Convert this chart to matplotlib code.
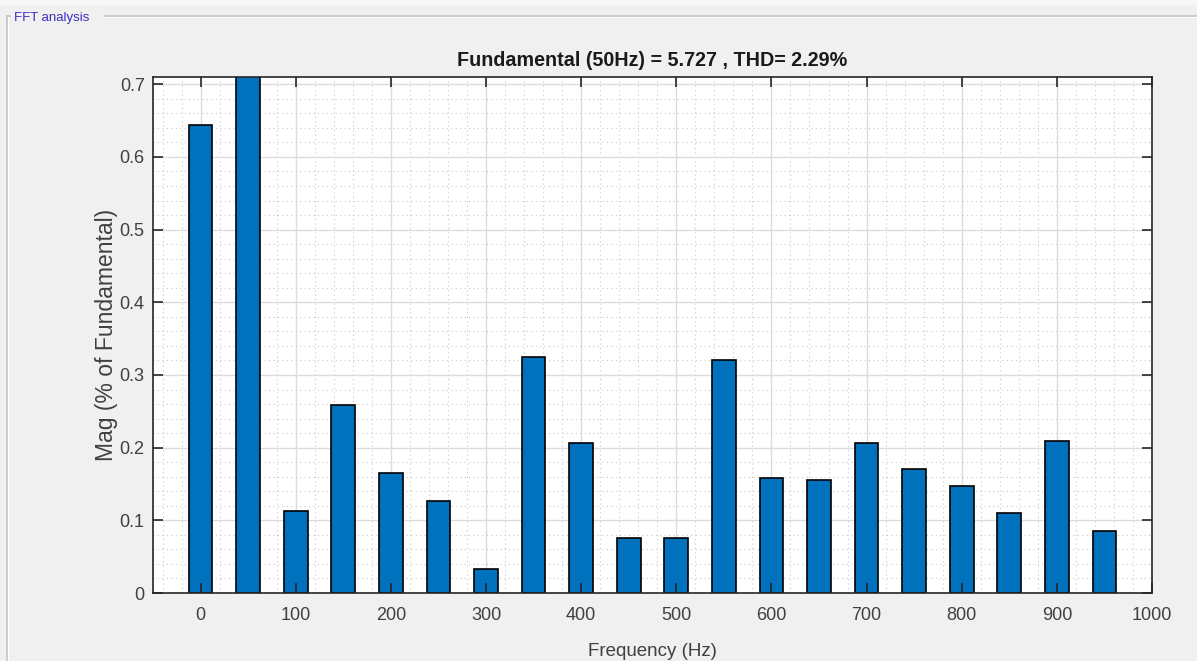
import matplotlib
matplotlib.use("Agg")
import matplotlib.pyplot as plt
from matplotlib.ticker import MultipleLocator
from matplotlib.lines import Line2D
from matplotlib.patches import Rectangle

plt.rcParams['font.family'] = ['Liberation Sans', 'DejaVu Sans']

freqs = [0, 50, 100, 150, 200, 250, 300, 350, 400, 450,
         500, 550, 600, 650, 700, 750, 800, 850, 900, 950]
mags = [0.644, 100.0, 0.113, 0.259, 0.165, 0.127, 0.033, 0.325, 0.206, 0.076,
        0.076, 0.320, 0.158, 0.155, 0.206, 0.171, 0.147, 0.110, 0.209, 0.085]
xticks = [0, 100, 200, 300, 400, 500, 600, 700, 800, 900, 1000]
yticks = [0, 0.1, 0.2, 0.3, 0.4, 0.5, 0.6, 0.7]
title = "Fundamental (50Hz) = 5.727 , THD= 2.29%"

W, H = 1197, 661
fig = plt.figure(figsize=(W / 100, H / 100), dpi=100, facecolor='#f0f0f0')

# light strip at top and panel frame
fig.add_artist(Rectangle((0, 1 - 5 / H), 1, 5 / H, transform=fig.transFigure,
                         facecolor='#f7f7f7', edgecolor='none'))
fig.add_artist(Line2D([105 / W, 1.0], [1 - 15.5 / H, 1 - 15.5 / H], color='#c4c4c4', lw=1.2))
fig.add_artist(Line2D([105 / W, 1.0], [1 - 17 / H, 1 - 17 / H], color='#ffffff', lw=0.8))
fig.add_artist(Line2D([6.5 / W, 6.5 / W], [0, 1 - 15.5 / H], color='#c4c4c4', lw=1.2))
fig.add_artist(Line2D([8 / W, 8 / W], [0, 1 - 17 / H], color='#ffffff', lw=0.8))
fig.add_artist(Line2D([6.5 / W, 10 / W], [1 - 15.5 / H, 1 - 15.5 / H], color='#c4c4c4', lw=1.2))
fig.text(14 / W, 1 - 18 / H, "FFT analysis", color='#3a2fc0', fontsize=9.5,
         ha='left', va='center')

pos = [153 / W, 1 - 593 / H, (1152 - 153) / W, (593 - 77) / H]
ax = fig.add_axes(pos)
ax.set_facecolor('white')
ax.set_axisbelow(True)
ax.bar(freqs, mags, width=25, color='#0072BD', edgecolor='black', linewidth=1.2, zorder=2)
ax.set_xlim(-50, 1000)
ax.set_ylim(0, 0.71)
ax.set_xticks(xticks)
ax.set_yticks(yticks)
ax.set_yticklabels(['0' if v == 0 else f"{v:g}" for v in yticks])
ax.xaxis.set_minor_locator(MultipleLocator(20))
ax.yaxis.set_minor_locator(MultipleLocator(0.02))
ax.grid(True, which='major', color='#dcdcdc', lw=1.0, ls='-')
ax.grid(True, which='minor', color='#c8c8c8', lw=0.8, ls=(0, (1, 3)))
ax.tick_params(which='both', length=0, labelsize=13, labelcolor='#404040')
ax.tick_params(axis='x', pad=10)
ax.tick_params(axis='y', pad=6)
for s in ax.spines.values():
    s.set_visible(False)
ax.set_title(title, fontsize=14.2, fontweight='bold', color='#1a1a1a', pad=8)
ax.set_xlabel("Frequency (Hz)", fontsize=13.5, color='#404040', labelpad=14)
ax.set_ylabel("Mag (% of Fundamental)", fontsize=16.5, color='#404040')
ax.yaxis.set_label_coords(-0.035, 0.5)

# overlay axes for ticks/box drawn above bars
ax2 = fig.add_axes(pos, sharex=ax, sharey=ax)
ax2.patch.set_visible(False)
ax2.tick_params(which='major', direction='in', length=7, width=1.2, color='#262626',
                top=True, right=True, labelbottom=False, labelleft=False)
ax2.tick_params(which='minor', length=0)
for s in ax2.spines.values():
    s.set_color('#262626')
    s.set_linewidth(1.2)
ax2.grid(False)

fig.savefig("out.png", dpi=100, facecolor=fig.get_facecolor())
